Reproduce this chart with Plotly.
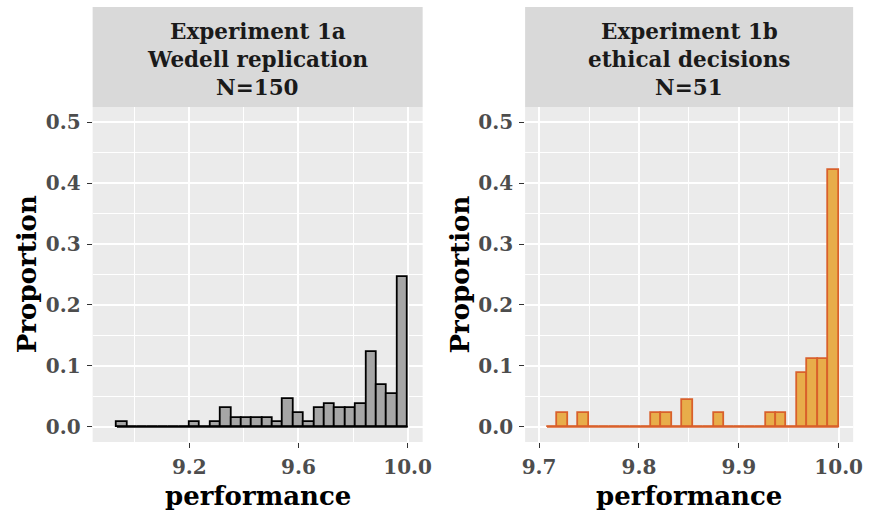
import plotly.graph_objects as go

# Histogram bins (proportion of participants per bin)
left_start, left_width = 8.935, 0.03804
left_prop = [0.0075, 0, 0, 0, 0, 0, 0, 0.0075, 0, 0.0075,
             0.031, 0.015, 0.015, 0.015, 0.015, 0.0075, 0.046, 0.023, 0.0075, 0.031,
             0.038, 0.031, 0.031, 0.038, 0.123, 0.069, 0.054, 0.246]

right_start, right_width = 9.7079, 0.01043
right_prop = [0, 0.022, 0, 0.022, 0, 0, 0, 0, 0, 0,
              0.022, 0.022, 0, 0.044, 0, 0, 0.022, 0, 0, 0,
              0, 0.022, 0.022, 0, 0.089, 0.111, 0.111, 0.422]

strip_left = ["Experiment 1a", "Wedell replication", "N=150"]
strip_right = ["Experiment 1b", "ethical decisions", "N=51"]

y_ticks = [0.0, 0.1, 0.2, 0.3, 0.4, 0.5]
y_ticklabels = ["0.0", "0.1", "0.2", "0.3", "0.4", "0.5"]
y_minor = [0.05, 0.15, 0.25, 0.35, 0.45]
left_xticks = [9.2, 9.6, 10.0]
left_xlabels = ["9.2", "9.6", "10.0"]
left_xminor = [9.0, 9.4, 9.8]
right_xticks = [9.7, 9.8, 9.9, 10.0]
right_xlabels = ["9.7", "9.8", "9.9", "10.0"]
right_xminor = [9.75, 9.85, 9.95]

W, H = 873, 514
FONT = "DejaVu Serif"

def centers(start, width, n):
    return [start + width * (i + 0.5) for i in range(n)]

fig = go.Figure()

panels = [
    dict(start=left_start, width=left_width, prop=left_prop, fill="#A6A6A6",
         line="#000000", xa="x", ya="y"),
    dict(start=right_start, width=right_width, prop=right_prop, fill="#E8AD4A",
         line="#D9602B", xa="x2", ya="y2"),
]
for p in panels:
    n = len(p["prop"])
    # baseline drawn under every bin, including empty ones
    fig.add_trace(go.Scatter(
        x=[p["start"], p["start"] + p["width"] * n], y=[0, 0], mode="lines",
        line=dict(color=p["line"], width=1.9), xaxis=p["xa"], yaxis=p["ya"],
        showlegend=False, hoverinfo="skip"))
    fig.add_trace(go.Bar(
        x=centers(p["start"], p["width"], n), y=p["prop"], width=p["width"],
        marker=dict(color=p["fill"], line=dict(color=p["line"], width=1.8)),
        xaxis=p["xa"], yaxis=p["ya"], showlegend=False))

y_dom = [1 - 442 / H, 1 - 107 / H]
x1_dom = [91 / W, 426 / W]
x2_dom = [530 / W, 863 / W]

tickfont = dict(family=FONT, size=20, color="#4D4D4D", weight="bold")
common_axis = dict(showline=False, zeroline=False, ticks="outside", ticklen=5,
                   tickwidth=1.1, tickcolor="#333333", gridcolor="white",
                   gridwidth=2, tickfont=tickfont, ticklabelstandoff=2)

def yaxis(anchor):
    return dict(common_axis, domain=y_dom, anchor=anchor, range=[-0.025, 0.525],
                tickmode="array", tickvals=y_ticks, ticktext=y_ticklabels,
                minor=dict(tickvals=y_minor, showgrid=True, gridcolor="white",
                           gridwidth=1, ticks=""))

def xaxis(dom, anchor, rng, tv, tt, mv):
    return dict(common_axis, domain=dom, anchor=anchor, range=rng,
                tickmode="array", tickvals=tv, ticktext=tt,
                minor=dict(tickvals=mv, showgrid=True, gridcolor="white",
                           gridwidth=1, ticks=""))

fig.update_layout(
    width=W, height=H, margin=dict(l=0, r=0, t=0, b=0),
    paper_bgcolor="white", plot_bgcolor="#EBEBEB", bargap=0,
    xaxis=xaxis(x1_dom, "y", [8.846, 10.055], left_xticks, left_xlabels, left_xminor),
    yaxis=yaxis("x"),
    xaxis2=xaxis(x2_dom, "y2", [9.686, 10.0145], right_xticks, right_xlabels, right_xminor),
    yaxis2=yaxis("x2"),
)

shapes = []
annotations = []
strip_top = 1 - 7 / H
for dom, lines in [(x1_dom, strip_left), (x2_dom, strip_right)]:
    shapes.append(dict(type="rect", xref="paper", yref="paper", x0=dom[0], x1=dom[1],
                       y0=y_dom[1], y1=strip_top, fillcolor="#D9D9D9", line=dict(width=0),
                       layer="below"))
    cx = (dom[0] + dom[1]) / 2
    for i, txt in enumerate(lines):
        annotations.append(dict(
            text=txt, xref="paper", yref="paper", x=cx, y=1 - (31 + 28 * i) / H,
            showarrow=False, xanchor="center", yanchor="middle",
            font=dict(family=FONT, size=21.5, color="#1A1A1A", weight="bold")))
    annotations.append(dict(
        text="performance", xref="paper", yref="paper", x=cx, y=1 - 496 / H,
        showarrow=False, xanchor="center", yanchor="middle",
        font=dict(family=FONT, size=26, color="black", weight="bold")))
for xpx in [24, 463]:
    annotations.append(dict(
        text="Proportion", xref="paper", yref="paper", x=xpx / W,
        y=(y_dom[0] + y_dom[1]) / 2, showarrow=False, textangle=-90,
        xanchor="center", yanchor="middle",
        font=dict(family=FONT, size=26, color="black", weight="bold")))

fig.update_layout(shapes=shapes, annotations=annotations)
fig.write_html("out.html")
